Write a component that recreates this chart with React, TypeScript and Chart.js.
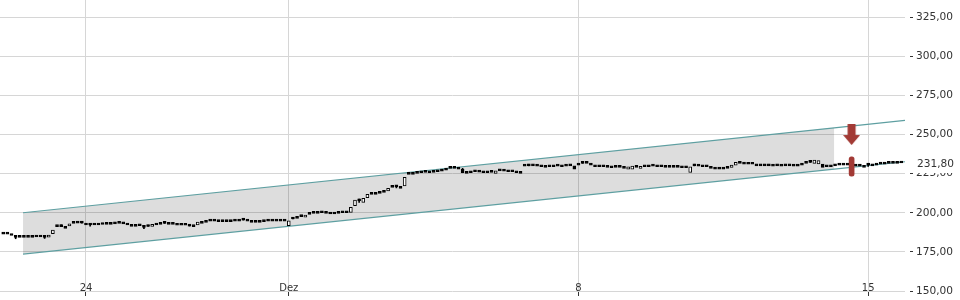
import React, { useEffect, useRef } from 'react';
import { Chart, registerables } from 'chart.js';

Chart.register(...registerables);

// ---- axis definitions ----
const xTickIndices = [20, 69, 139, 209];
const xTickLabels = ['24', 'Dez', '8', '15'];
const yTickValues = [150, 175, 200, 225, 250, 275, 300, 325];
const xMin = -0.78;
const xMax = 217.9;
const yMin = 150;
const yMax = 336;

// ---- candle data (one candle per slot) ----
const opens = [
  186.4, 186.4, 185.5, 184.9, 184.3, 184.3, 184.3, 184.3, 184.5, 184.5,
  184.9, 184.4, 186.6, 191.1, 191.1, 190.0, 191.6, 193.2, 193.4, 193.4,
  192.2, 192.2, 192.2, 192.2, 192.5, 192.6, 192.6, 192.9, 193.2, 192.9,
  192.2, 191.3, 191.3, 191.7, 190.7, 191.2, 191.3, 192.2, 192.6, 193.2,
  192.6, 192.6, 192.0, 192.0, 192.0, 191.5, 191.1, 192.2, 193.2, 193.9,
  194.7, 194.7, 194.3, 194.3, 194.3, 194.3, 194.7, 194.7, 195.3, 194.7,
  193.9, 193.9, 193.9, 194.3, 194.7, 194.7, 194.7, 194.7, 194.7, 191.8,
  196.0, 196.4, 197.5, 197.2, 199.0, 199.6, 199.6, 200.0, 199.6, 199.2,
  199.2, 199.6, 200.0, 200.0, 200.3, 204.5, 207.7, 206.6, 209.6, 211.8,
  211.8, 212.4, 213.0, 213.9, 216.2, 216.6, 215.6, 217.1, 224.5, 224.5,
  225.2, 225.6, 225.8, 225.6, 225.8, 226.2, 226.6, 227.3, 228.4, 228.4,
  227.9, 227.7, 225.2, 225.6, 226.2, 226.0, 225.6, 225.6, 225.8, 225.2,
  226.8, 226.6, 226.2, 226.2, 225.6, 225.2, 229.8, 230.0, 230.0, 229.8,
  229.4, 229.0, 229.4, 229.4, 229.8, 229.4, 229.8, 230.0, 230.0, 230.5,
  231.6, 231.6, 230.5, 229.4, 229.4, 229.4, 229.0, 228.8, 229.0, 229.0,
  228.4, 227.9, 227.9, 229.0, 228.4, 229.4, 229.4, 229.8, 229.4, 229.4,
  229.0, 229.0, 229.0, 229.0, 228.8, 228.8, 225.8, 230.0, 229.8, 229.4,
  229.4, 228.4, 227.9, 227.9, 227.9, 228.4, 229.0, 230.5, 231.6, 231.1,
  231.0, 231.0, 230.0, 230.0, 230.0, 230.0, 229.8, 230.0, 229.8, 230.0,
  230.0, 229.8, 229.8, 230.5, 231.6, 232.2, 231.6, 231.2, 231.1, 229.4,
  229.4, 230.0, 230.5, 230.5, 230.5, 229.8, 229.8, 229.8, 229.0, 230.5,
  230.0, 230.5, 231.1, 231.1, 231.6, 231.6, 231.6, 231.8,
];

const closes = [
  186.4, 186.4, 185.5, 184.3, 184.3, 184.3, 184.3, 184.3, 184.5, 184.5,
  184.3, 185.8, 189.0, 191.1, 191.1, 190.0, 192.8, 193.2, 193.4, 193.4,
  192.2, 192.2, 192.2, 192.2, 192.5, 192.6, 192.6, 192.9, 193.2, 192.9,
  192.2, 191.3, 191.3, 191.7, 190.7, 191.2, 192.3, 192.2, 192.6, 193.2,
  192.6, 192.6, 192.0, 192.0, 192.0, 191.5, 191.1, 194.1, 193.2, 193.9,
  194.7, 194.7, 194.3, 194.3, 194.3, 194.3, 194.7, 194.7, 195.3, 194.7,
  193.9, 193.9, 193.9, 194.3, 194.7, 194.7, 194.7, 194.7, 194.7, 194.8,
  196.0, 196.4, 197.5, 198.6, 199.0, 199.6, 199.6, 200.0, 199.6, 199.2,
  199.2, 199.6, 200.0, 200.0, 203.5, 208.1, 207.7, 209.2, 211.8, 211.8,
  211.8, 212.4, 213.0, 215.6, 216.2, 216.6, 215.6, 222.6, 224.5, 224.5,
  225.2, 225.6, 225.8, 225.6, 225.8, 226.2, 226.6, 227.3, 228.4, 228.4,
  227.9, 225.6, 225.2, 225.6, 226.2, 226.0, 225.6, 225.6, 225.8, 226.8,
  226.8, 226.6, 226.2, 226.2, 225.6, 225.2, 229.8, 230.0, 230.0, 229.8,
  229.4, 229.0, 229.4, 229.4, 229.8, 229.4, 229.8, 230.0, 227.9, 230.5,
  231.6, 231.6, 230.5, 229.4, 229.4, 229.4, 229.0, 228.8, 229.0, 229.0,
  228.4, 229.4, 229.8, 229.0, 229.2, 229.4, 229.4, 229.8, 229.4, 229.4,
  229.0, 229.0, 229.0, 229.0, 228.8, 228.8, 229.4, 230.0, 229.8, 229.4,
  229.4, 228.4, 227.9, 227.9, 227.9, 228.4, 230.5, 232.2, 231.6, 231.1,
  231.0, 231.0, 230.0, 230.0, 230.0, 230.0, 229.8, 230.0, 229.8, 230.0,
  230.0, 229.8, 229.8, 230.5, 231.6, 232.2, 233.7, 233.3, 229.0, 229.4,
  229.4, 230.0, 230.5, 230.5, 230.5, 229.8, 229.8, 229.8, 229.0, 230.5,
  230.0, 230.5, 231.1, 231.1, 231.6, 231.6, 231.6, 231.8,
];

// visible wicks: [slot, low, high]
const wicks: [number, number, number][] = [
  [3, 183.4, 184.9], [10, 183.6, 184.9], [14, 191.1, 192.3], [19, 193.4, 194.4],
  [21, 191.5, 192.9], [34, 189.9, 191.6], [35, 191.2, 192.2], [39, 193.2, 194.2],
  [45, 191.5, 192.5], [58, 195.3, 196.3], [70, 196.0, 197.0], [86, 206.6, 208.8],
  [95, 215.9, 217.4], [111, 225.6, 228.4], [127, 230.0, 231.0], [140, 231.6, 232.6],
  [167, 230.0, 231.0], [195, 232.2, 233.0], [209, 229.6, 231.6],
];

// ---- trend channel ----
const channelX = [4.78, 200.8, 217.9]; // start, end of shaded zone, end of lines
const upperChannel = [200.0, 254.3, 259.0];
const lowerChannel = [173.6, 227.9, 232.6];

// ---- signal ----
const signalIndex = 205;
const signalBar: [number, number] = [223.4, 235.8];
const arrowValue = 250;
const lastPrice = 231.8;

const RED = '#a23a35';
const TEAL = '#5e9fa1';
const GRID = '#d6d6d6';
const TEXT = '#333333';
const Y_FONT = 10.6;

const fmt = (v: number) => v.toFixed(2).replace('.', ',');

const lastPricePlugin = {
  id: 'lastPriceLabel',
  afterDraw(chart: any) {
    const { ctx, chartArea, scales } = chart;
    const y = scales.y.getPixelForValue(lastPrice);
    ctx.save();
    ctx.fillStyle = '#ffffff';
    ctx.fillRect(chartArea.right + 10, Math.round(y) - 7, 960 - chartArea.right - 10, 17);
    ctx.fillStyle = TEXT;
    ctx.font = `${Y_FONT}px "DejaVu Sans"`;
    ctx.textAlign = 'left';
    ctx.textBaseline = 'middle';
    ctx.fillText(fmt(lastPrice), chartArea.right + 12, y + 1);
    ctx.restore();
  },
};

function makeArrow(): HTMLCanvasElement {
  const c = document.createElement('canvas');
  c.width = 17;
  c.height = 21;
  const g = c.getContext('2d')!;
  g.fillStyle = RED;
  g.fillRect(4.5, 0, 8, 11);
  g.beginPath();
  g.moveTo(0, 11);
  g.lineTo(17, 11);
  g.lineTo(8.5, 21);
  g.closePath();
  g.fill();
  return c;
}

export default function App() {
  const ref = useRef<HTMLCanvasElement>(null);

  useEffect(() => {
    document.body.style.margin = '0';
    Chart.defaults.font.family = '"DejaVu Sans", sans-serif';
    const canvas = ref.current!;
    const arrow = makeArrow();

    const candleData = closes.map((c, i) => ({ x: i, y: [opens[i], c] }));
    const candleFill = closes.map((c, i) => (c > opens[i] ? '#ffffff' : '#000000'));

    const chart = new Chart(canvas, {
      type: 'bar',
      data: {
        datasets: [
          {
            type: 'line',
            data: [
              { x: channelX[0], y: upperChannel[0] },
              { x: channelX[1], y: upperChannel[1] },
            ],
            borderWidth: 0,
            pointRadius: 0,
            backgroundColor: 'rgba(0,0,0,0.135)',
            fill: '+1',
            order: 20,
          } as any,
          {
            type: 'line',
            data: [
              { x: channelX[0], y: lowerChannel[0] },
              { x: channelX[1], y: lowerChannel[1] },
            ],
            borderWidth: 0,
            pointRadius: 0,
            fill: false,
            order: 20,
          } as any,
          {
            type: 'line',
            data: channelX.map((x, i) => ({ x, y: upperChannel[i] })),
            borderColor: TEAL,
            borderWidth: 1.2,
            pointRadius: 0,
            fill: false,
            order: 10,
          } as any,
          {
            type: 'line',
            data: channelX.map((x, i) => ({ x, y: lowerChannel[i] })),
            borderColor: TEAL,
            borderWidth: 1.2,
            pointRadius: 0,
            fill: false,
            order: 10,
          } as any,
          {
            type: 'bar',
            data: wicks.map(([x, lo, hi]) => ({ x, y: [lo, hi] })),
            backgroundColor: '#000000',
            borderWidth: 0,
            barThickness: 1,
            grouped: false,
            order: 6,
          } as any,
          {
            type: 'bar',
            data: candleData,
            backgroundColor: candleFill,
            borderColor: '#000000',
            borderWidth: 1,
            borderSkipped: false,
            barThickness: 3,
            minBarLength: 2,
            grouped: false,
            order: 5,
          } as any,
          {
            type: 'bar',
            data: [{ x: signalIndex, y: signalBar }],
            backgroundColor: RED,
            borderWidth: 0,
            borderRadius: 3,
            borderSkipped: false,
            barThickness: 5,
            grouped: false,
            order: 2,
          } as any,
          {
            type: 'line',
            data: [{ x: signalIndex, y: arrowValue }],
            showLine: false,
            pointStyle: arrow,
            pointRadius: 10,
            order: 1,
          } as any,
        ],
      },
      options: {
        responsive: false,
        maintainAspectRatio: false,
        devicePixelRatio: 1,
        animation: false,
        events: [],
        layout: { padding: 0, autoPadding: false },
        plugins: { legend: { display: false }, tooltip: { enabled: false } },
        scales: {
          x: {
            type: 'linear',
            position: 'bottom',
            min: xMin,
            max: xMax,
            offset: false,
            afterBuildTicks: (s: any) => {
              s.ticks = xTickIndices.map((v) => ({ value: v }));
            },
            afterFit: (s: any) => {
              s.height = 9;
              s.paddingLeft = 0;
              s.paddingRight = 0;
            },
            grid: { color: GRID, tickColor: TEXT, tickLength: 5, offset: false },
            border: { display: false },
            ticks: {
              mirror: true,
              padding: -3,
              autoSkip: false,
              maxRotation: 0,
              color: TEXT,
              font: { size: 10 },
              callback: (_v: any, i: number) => xTickLabels[i],
            },
          },
          y: {
            type: 'linear',
            position: 'right',
            min: yMin,
            max: yMax,
            afterBuildTicks: (s: any) => {
              s.ticks = yTickValues.map((v) => ({ value: v }));
            },
            afterFit: (s: any) => {
              s.width = 55;
              s.paddingTop = 0;
              s.paddingBottom = 0;
            },
            grid: { color: GRID, tickColor: TEXT, tickLength: 8, tickBorderDash: [0, 5, 3, 100] },
            border: { display: false },
            ticks: {
              padding: 3,
              color: TEXT,
              font: { size: Y_FONT },
              callback: (v: any) => fmt(Number(v)),
            },
          },
        } as any,
      },
      plugins: [lastPricePlugin],
    } as any);

    return () => chart.destroy();
  }, []);

  return (
    <div style={{ width: 960, height: 300 }}>
      <canvas ref={ref} width={960} height={300} style={{ display: 'block', width: 960, height: 300 }} />
    </div>
  );
}
